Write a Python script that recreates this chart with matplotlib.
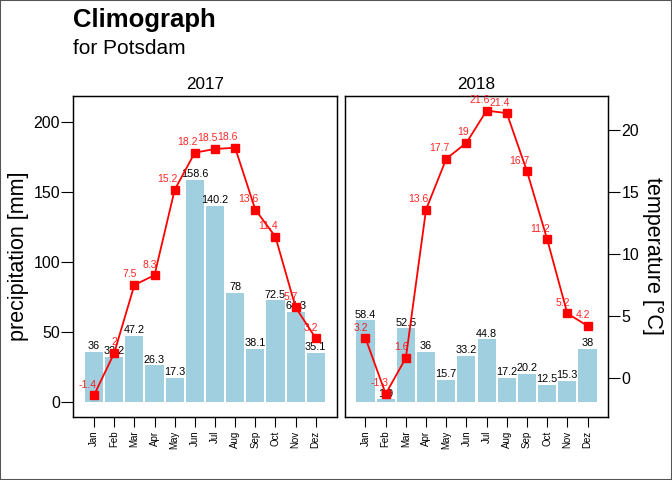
import matplotlib.pyplot as plt
import matplotlib.patches as mpatches

plt.rcParams['font.family'] = ['Liberation Sans', 'DejaVu Sans']

# datos
months = ['Jan', 'Feb', 'Mar', 'Apr', 'May', 'Jun', 'Jul', 'Aug', 'Sep', 'Oct', 'Nov', 'Dez']
years = ['2017', '2018']
precip_2017 = [36, 32.2, 47.2, 26.3, 17.3, 158.6, 140.2, 78, 38.1, 72.5, 64.3, 35.1]
temp_2017 = [-1.4, 2, 7.5, 8.3, 15.2, 18.2, 18.5, 18.6, 13.6, 11.4, 5.7, 3.2]
precip_2018 = [58.4, 1.9, 52.5, 36, 15.7, 33.2, 44.8, 17.2, 20.2, 12.5, 15.3, 38]
temp_2018 = [3.2, -1.3, 1.6, 13.6, 17.7, 19, 21.6, 21.4, 16.7, 11.2, 5.2, 4.2]

precip = [precip_2017, precip_2018]
temp = [temp_2017, temp_2018]

# escala secundaria: precip = offset + factor * temp
factor = 8.82
offset = 17.35
p_lim = (-10.4, 218.3)
t_lim = ((p_lim[0] - offset) / factor, (p_lim[1] - offset) / factor)

W, H = 672, 480
fig = plt.figure(figsize=(W / 100, H / 100), dpi=100)

def px_axes(x0, x1, y0, y1):
    return fig.add_axes([x0 / W, 1 - y1 / H, (x1 - x0) / W, (y1 - y0) / H])

panels = [(73.3, 336.5), (344.7, 608.3)]
top, bottom = 96, 416.7
x = list(range(1, 13))

for i, (x0, x1) in enumerate(panels):
    ax = px_axes(x0, x1, top, bottom)
    ax.bar(x, precip[i], width=0.9, color='#a0cfe0', zorder=1)
    for xi, p in zip(x, precip[i]):
        ax.annotate(f'{p:g}', (xi, p), xytext=(0, 0.5), textcoords='offset points',
                    ha='center', va='bottom', fontsize=7.8, color='black', zorder=3)
    ax.set_xlim(-0.03, 13.03)
    ax.set_ylim(*p_lim)
    ax.set_xticks(x)
    ax.set_xticklabels(months, rotation=90, fontsize=7)
    ax.tick_params(axis='x', length=7, width=0.8, pad=3)
    if i == 0:
        ax.set_yticks([0, 50, 100, 150, 200])
        ax.tick_params(axis='y', labelsize=11.5, length=8.5, width=0.8, pad=1)
        ax.set_ylabel('precipitation [mm]', fontsize=15.5, labelpad=3)
    else:
        ax.set_yticks([])
    ax.set_title(years[i], fontsize=12.3, pad=5)
    for s in ax.spines.values():
        s.set_linewidth(0.9)

    ax2 = ax.twinx()
    ax2.plot(x, temp[i], color='red', lw=1.3, marker='s', markersize=5.2, zorder=4)
    for xi, t in zip(x, temp[i]):
        ax2.annotate(f'{t:g}', (xi, t), xytext=(2, 4), textcoords='offset points',
                     ha='right', va='bottom', fontsize=7.5, color='red', alpha=0.85)
    ax2.set_ylim(*t_lim)
    if i == 1:
        ax2.set_yticks([0, 5, 10, 15, 20])
        ax2.tick_params(axis='y', labelsize=11.5, length=8.5, width=0.8, pad=1)
        ax2.set_ylabel('temperature [°C]', fontsize=15.5, rotation=270, labelpad=17)
    else:
        ax2.set_yticks([])
    for s in ax2.spines.values():
        s.set_linewidth(0.9)

fig.text(73.3 / W, 1 - 27 / H, 'Climograph', fontsize=18.5, fontweight='bold', ha='left', va='baseline')
fig.text(73.3 / W, 1 - 54.5 / H, 'for Potsdam', fontsize=15, ha='left', va='baseline')

# marco exterior
fig.patches.append(mpatches.Rectangle((0, 0), 1, 1, transform=fig.transFigure, fill=False,
                                      edgecolor='#555555', linewidth=1.5))

plt.savefig('out.png', dpi=100)
